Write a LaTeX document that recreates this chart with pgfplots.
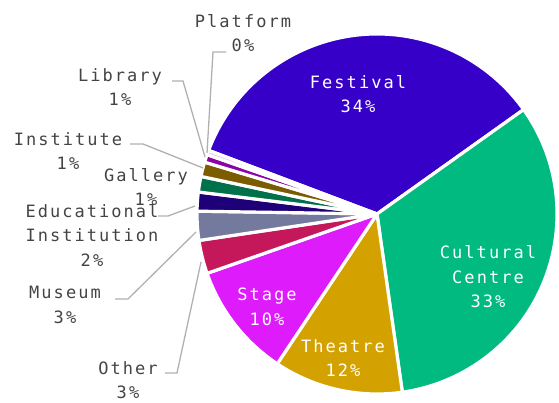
\documentclass[border=0pt]{standalone}
\usepackage{pgfplots}
\pgfplotsset{compat=1.18}
\usepackage{pgfplotstable}
\usepackage{fontspec}
\newfontfamily\chartfont[LetterSpace=12]{DejaVu Sans Mono}

\definecolor{cFest}{HTML}{3600C9}
\definecolor{cCult}{HTML}{00BA80}
\definecolor{cThea}{HTML}{D4A200}
\definecolor{cStag}{HTML}{DD1BFB}
\definecolor{cOthe}{HTML}{C4185A}
\definecolor{cMuse}{HTML}{747A9E}
\definecolor{cEduc}{HTML}{1E0078}
\definecolor{cGall}{HTML}{00714B}
\definecolor{cInst}{HTML}{7B5C00}
\definecolor{cLibr}{HTML}{8E00A8}
\definecolor{cPlat}{HTML}{F2C4F0}
\definecolor{txt}{HTML}{444444}
\definecolor{lead}{HTML}{B0B0B0}

% share of each venue type, percent
\pgfplotstableread[col sep=comma]{
name,pct,col
Festival,34.4,cFest
Cultural Centre,32.6,cCult
Theatre,11.6,cThea
Stage,10.3,cStag
Other,3.0,cOthe
Museum,2.6,cMuse
Educational Institution,1.7,cEduc
Gallery,1.4,cGall
Institute,1.3,cInst
Library,0.7,cLibr
Platform,0.4,cPlat
}\piedata

\tikzset{lab/.style={font={\chartfont\fontsize{17bp}{24.5bp}\selectfont}, align=center, inner sep=0pt}}

\begin{document}
\begin{tikzpicture}
\begin{axis}[
    name=ax,
    width=559bp, height=403bp,
    scale only axis,
    xmin=0, xmax=559, ymin=0, ymax=403,
    hide axis, clip=false,
]
\pgfplotstablegetrowsof{\piedata}
\pgfmathtruncatemacro{\lastrow}{\pgfplotsretval-1}
\def\angstart{159.3}
\pgfplotsforeachungrouped \i in {0,...,\lastrow}{%
    \pgfplotstablegetelem{\i}{pct}\of\piedata \let\p\pgfplotsretval
    \pgfplotstablegetelem{\i}{col}\of\piedata \let\c\pgfplotsretval
    \pgfmathsetmacro{\angend}{\angstart-3.6*\p}%
    \edef\temp{\noexpand\filldraw[fill=\c, draw=white, line width=3.2pt, line join=round]
        (axis cs:377,189) -- ++(\angstart:180bp)
        arc[start angle=\angstart, end angle=\angend, radius=180bp] -- cycle;}%
    \temp
    \global\let\angstart\angend
}

% leader lines
\draw[lead, line width=1.3pt] (axis cs:207,250) -- (axis cs:213,351) -- (axis cs:226,351);
\draw[lead, line width=1.3pt] (axis cs:205,246) -- (axis cs:183,322) -- (axis cs:172,322);
\draw[lead, line width=1.3pt] (axis cs:203,235) -- (axis cs:143,259) -- (axis cs:130,259);
\draw[lead, line width=1.3pt] (axis cs:195,197) -- (axis cs:168,187) -- (axis cs:158,187);
\draw[lead, line width=1.3pt] (axis cs:196,171) -- (axis cs:128,104) -- (axis cs:115,104);
\draw[lead, line width=1.3pt] (axis cs:201,141) -- (axis cs:177,30) -- (axis cs:165,30);

% inside labels
\node[lab, white] at (axis cs:358,309) {Festival\\34\%};
\node[lab, white] at (axis cs:488,126) {Cultural\\Centre\\33\%};
\node[lab, white] at (axis cs:343,45) {Theatre\\12\%};
\node[lab, white] at (axis cs:267,96) {Stage\\10\%};

% outside labels
\node[lab, txt] at (axis cs:243,370) {Platform\\0\%};
\node[lab, txt] at (axis cs:120,316) {Library\\1\%};
\node[lab, txt] at (axis cs:68,252) {Institute\\1\%};
\node[lab, txt] at (axis cs:92,168) {Educational\\Institution\\2\%};
\node[lab, txt] at (axis cs:146,216) {Gallery\\1\%};
\node[lab, txt] at (axis cs:65,98) {Museum\\3\%};
\node[lab, txt] at (axis cs:128,23) {Other\\3\%};
\end{axis}
\pgfresetboundingbox
\useasboundingbox (ax.south west) rectangle (ax.north east);
\end{tikzpicture}
\end{document}
